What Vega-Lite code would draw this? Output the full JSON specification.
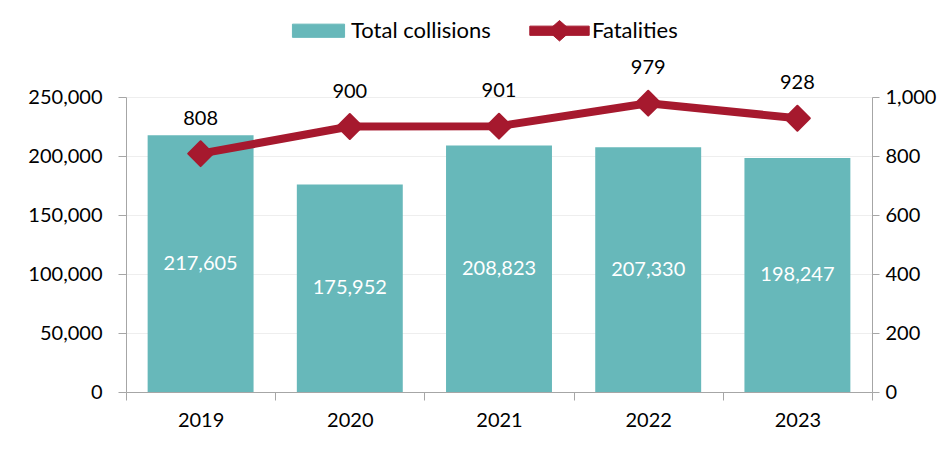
{
  "$schema": "https://vega.github.io/schema/vega-lite/v6.json",
  "width": 746,
  "height": 295,
  "autosize": {"type": "none"},
  "padding": {"left": 126, "top": 97, "right": 80, "bottom": 58},
  "background": "white",
  "config": {
    "font": "Lato",
    "view": {"stroke": null},
    "axis": {"labelFont": "Lato", "labelFontSize": 20, "labelColor": "#000000", "domainColor": "#a6a6a6", "tickColor": "#a6a6a6", "title": null}
  },
  "data": {
    "values": [
      {"year": "2019", "collisions": 217605, "fatalities": 808},
      {"year": "2020", "collisions": 175952, "fatalities": 900},
      {"year": "2021", "collisions": 208823, "fatalities": 901},
      {"year": "2022", "collisions": 207330, "fatalities": 979},
      {"year": "2023", "collisions": 198247, "fatalities": 928}
    ]
  },
  "encoding": {
    "x": {
      "field": "year",
      "type": "ordinal",
      "scale": {"paddingInner": 0, "paddingOuter": 0},
      "axis": {"labelAngle": 0, "tickBand": "extent", "tickSize": 8, "labelPadding": 10, "grid": false}
    }
  },
  "layer": [
    {
      "mark": {"type": "bar", "width": {"band": 0.71}},
      "encoding": {
        "y": {
          "field": "collisions",
          "type": "quantitative",
          "scale": {"domain": [0, 250000], "nice": false},
          "axis": {"orient": "left", "values": [0, 50000, 100000, 150000, 200000, 250000], "format": ",.0f", "tickSize": 8, "labelPadding": 16, "grid": true, "gridColor": "#eeeeee", "gridWidth": 1}
        },
        "color": {
          "datum": "Total collisions",
          "type": "nominal",
          "scale": {"domain": ["Total collisions", "Fatalities"], "range": ["#67b8ba", "#a6192e"]},
          "legend": {
            "title": null,
            "orient": "none",
            "direction": "horizontal",
            "legendX": 159,
            "legendY": -100,
            "labelFont": "Lato",
            "labelFontSize": 22,
            "labelColor": "#000000",
            "symbolSize": 4356,
            "columnPadding": 35,
            "labelOffset": -1,
            "encode": {
              "symbols": {
                "update": {
                  "shape": {"signal": "datum.value === 'Fatalities' ? 'M-0.9,-0.14H0.9V0.14H-0.9Z M0,-0.31L0.35,0L0,0.31L-0.35,0Z' : 'M-0.79,-0.2H0.79V0.2H-0.79Z'"},
                  "fill": {"signal": "datum.value === 'Fatalities' ? '#a6192e' : '#67b8ba'"},
                  "stroke": {"signal": "datum.value === 'Fatalities' ? '#a6192e' : '#67b8ba'"},
                  "strokeWidth": {"value": 1},
                  "strokeJoin": {"value": "round"},
                  "opacity": {"value": 1},
                  "fillOpacity": {"value": 1}
                }
              }
            }
          }
        }
      }
    },
    {
      "mark": {"type": "text", "color": "#ffffff", "fontSize": 20, "font": "Lato", "baseline": "middle"},
      "encoding": {
        "y": {
          "field": "collisions",
          "type": "quantitative",
          "scale": {"domain": [0, 500000], "nice": false},
          "axis": null
        },
        "text": {"field": "collisions", "type": "quantitative", "format": ",.0f"}
      }
    },
    {
      "encoding": {
        "y": {
          "field": "fatalities",
          "type": "quantitative",
          "scale": {"domain": [0, 1000], "nice": false},
          "axis": {"orient": "right", "values": [0, 200, 400, 600, 800, 1000], "format": ",.0f", "tickSize": 7, "labelPadding": 6, "grid": false}
        }
      },
      "layer": [
        {
          "mark": {"type": "line", "strokeWidth": 8, "strokeJoin": "round"},
          "encoding": {
            "color": {"datum": "Fatalities", "type": "nominal"}
          }
        },
        {
          "mark": {"type": "point", "shape": "diamond", "filled": true, "size": 620, "opacity": 1, "color": "#a6192e", "stroke": "#a6192e", "strokeWidth": 2, "strokeJoin": "round"},
          "encoding": {}
        },
        {
          "mark": {"type": "text", "fontSize": 20, "font": "Lato", "color": "#000000", "baseline": "middle", "dy": -35},
          "encoding": {
            "text": {"field": "fatalities", "type": "quantitative", "format": ",.0f"}
          }
        }
      ]
    }
  ],
  "resolve": {"scale": {"y": "independent"}}
}
